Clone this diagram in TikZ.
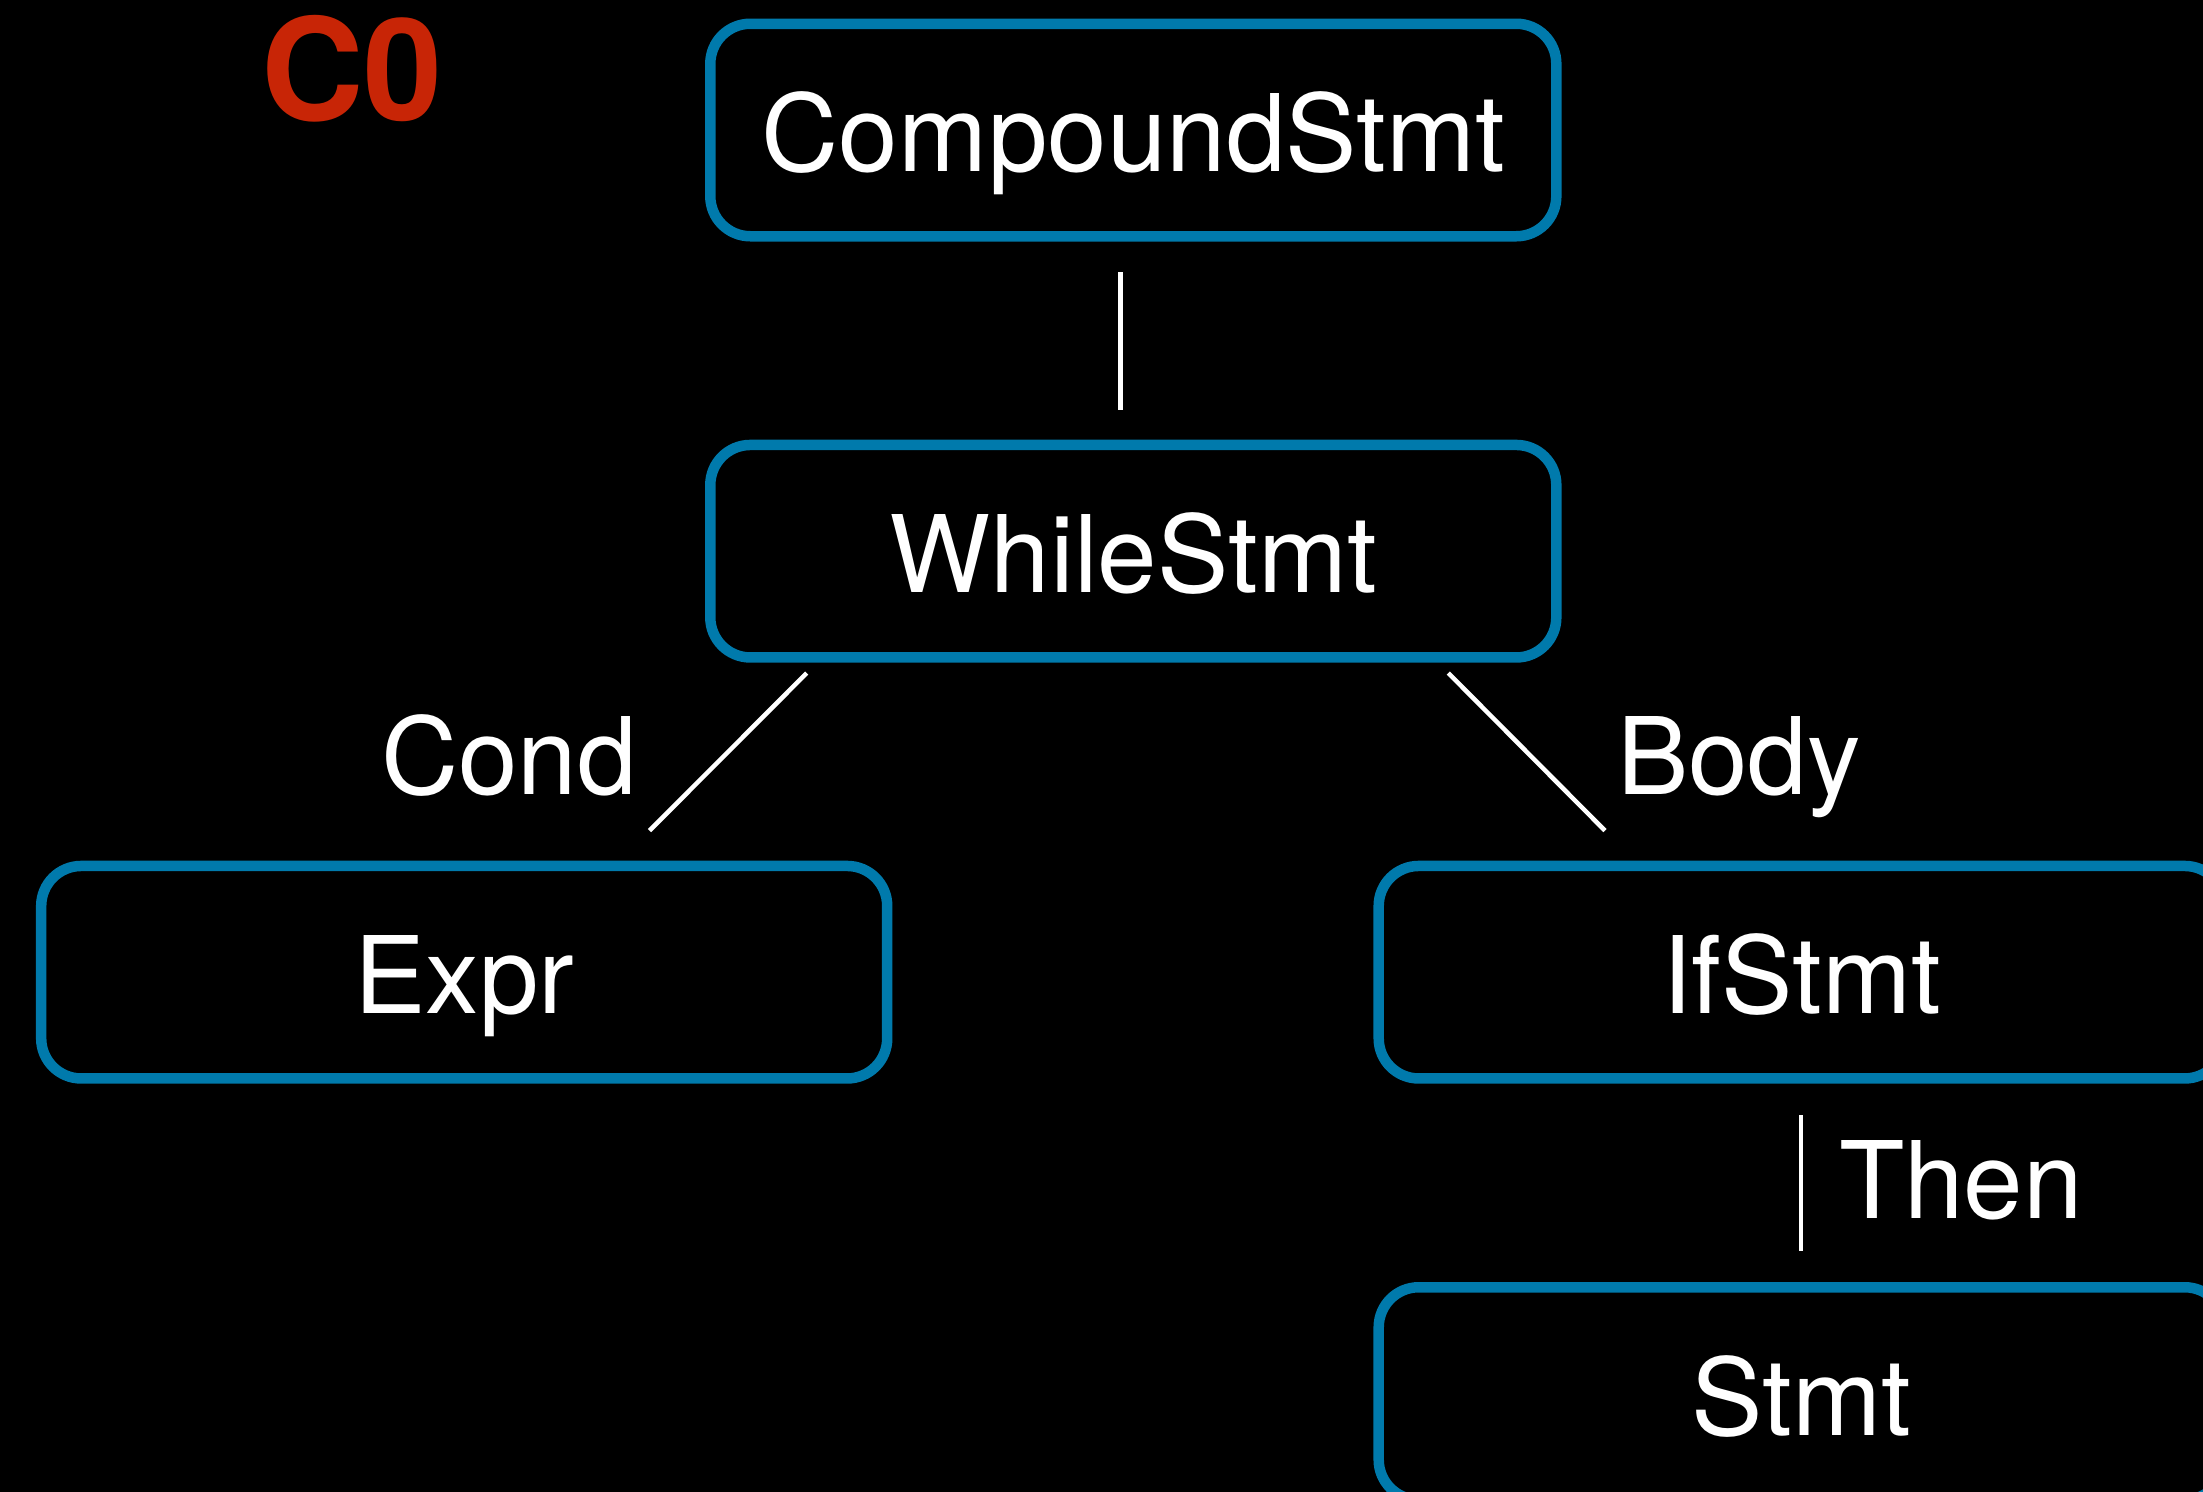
\documentclass[tikz,border=0pt]{standalone}
\usepackage{fontspec}
\setmainfont{TeX Gyre Heros}
\definecolor{astblue}{RGB}{0,122,172}
\definecolor{tagred}{RGB}{200,37,6}
\tikzset{
  astnode/.style={draw=astblue, line width=10.5pt, rounded corners=40pt,
    minimum width=846pt, minimum height=212.5pt, inner sep=0pt, outer sep=0pt,
    text height=83.4pt, text depth=0pt, text=white,
    font=\fontsize{107}{120}\selectfont},
  edge/.style={draw=white, line width=4.5pt},
  edgelabel/.style={anchor=base, text=white, inner sep=0pt,
    font=\fontsize{107}{120}\selectfont}
}
\begin{document}
\begin{tikzpicture}[x=1pt,y=-1pt]
  \useasboundingbox (0,0) rectangle (2203,1491);
  \fill[black] (-20,-20) rectangle (2223,1511);

  % tree nodes
  \node[astnode] (cs) at (1133.3,130) {CompoundStmt};
  \node[astnode] (ws) at (1133.3,551.2) {WhileStmt};
  \node[astnode] (ex) at (464.2,972.2) {Expr};
  \node[astnode] (if) at (1801.7,972.2) {IfStmt};
  \node[astnode] (st) at (1801.7,1393.5) {Stmt};

  % title tag
  \node[anchor=base, text=tagred, inner sep=0pt,
        font=\fontsize{142}{156}\selectfont\bfseries] (tag) at (352,120) {C0};

  % connectors
  \draw[edge] ([xshift=-13pt,yshift=-36pt]cs.south) -- ([xshift=-13pt,yshift=34.7pt]ws.north);
  \draw[edge] ([xshift=96.4pt,yshift=-15.6pt]ws.south west) -- ([xshift=-237.7pt,yshift=35.3pt]ex.north east);
  \draw[edge] ([xshift=-108pt,yshift=-15.6pt]ws.south east) -- ([xshift=226.3pt,yshift=35.3pt]if.north west);
  \draw[edge] ([xshift=-0.7pt,yshift=-36.7pt]if.south) -- ([xshift=-0.7pt,yshift=36.3pt]st.north);

  % edge labels
  \node[edgelabel] (lcond) at (509,794) {Cond};
  \node[edgelabel] (lbody) at (1739,794) {Body};
  \node[edgelabel] (lthen) at (1961,1218.3) {Then};
\end{tikzpicture}
\end{document}
